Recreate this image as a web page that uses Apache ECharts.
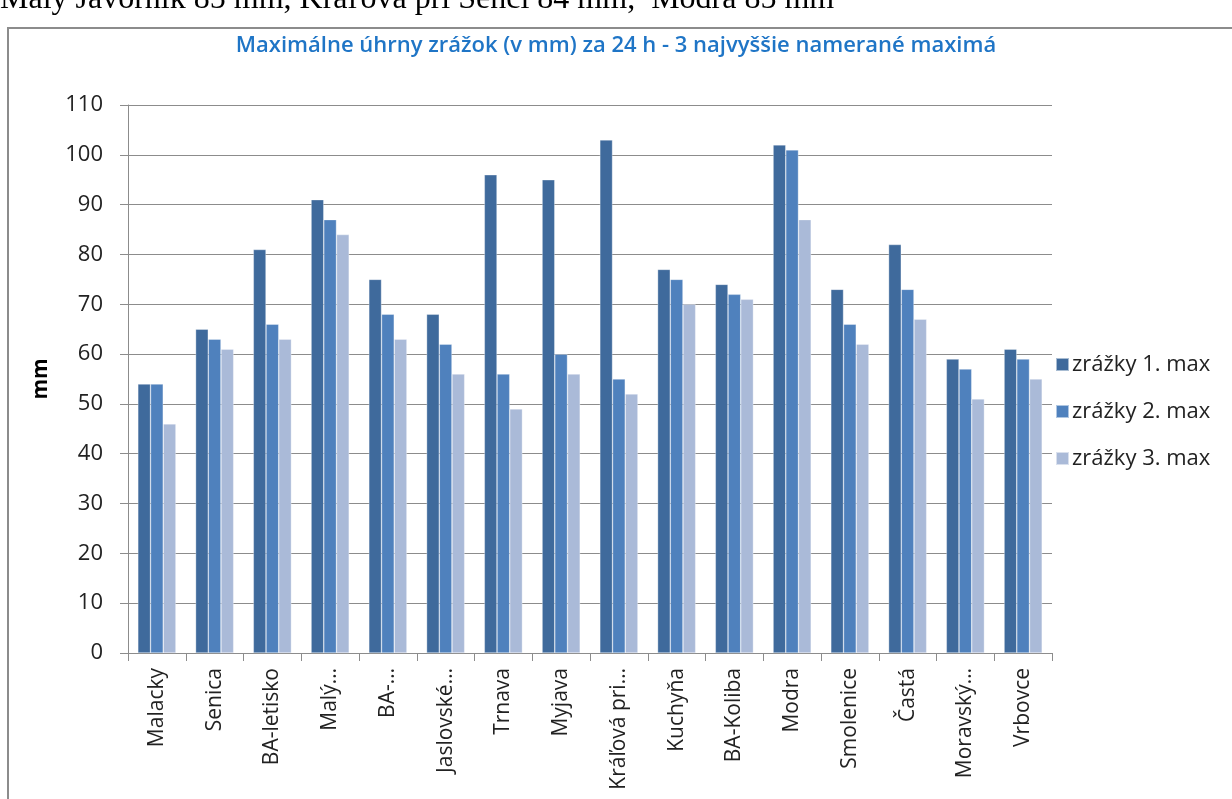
<!DOCTYPE html>
<html>
<head>
<meta charset="utf-8">
<script src="https://cdn.jsdelivr.net/npm/echarts@6/dist/echarts.min.js"></script>
<style>
  html, body { margin: 0; padding: 0; background: #fff; }
  #chart { width: 1232px; height: 799px; }
</style>
</head>
<body>
<div id="chart"></div>
<script>
// Stations (long names are shortened the way the axis shows them)
const stations = ['Malacky', 'Senica', 'BA-letisko', 'Malý…', 'BA-…', 'Jaslovské…', 'Trnava', 'Myjava', 'Kráľová pri…',
  'Kuchyňa', 'BA-Koliba', 'Modra', 'Smolenice', 'Častá', 'Moravský…', 'Vrbovce'];

// Three highest 24-hour precipitation totals per station (mm)
const max1 = [54, 65, 81, 91, 75, 68, 96, 95, 103, 77, 74, 102, 73, 82, 59, 61];
const max2 = [54, 63, 66, 87, 68, 62, 56, 60, 55, 75, 72, 101, 66, 73, 57, 59];
const max3 = [46, 61, 63, 84, 63, 56, 49, 56, 52, 70, 71, 87, 62, 67, 51, 55];

const seriesNames = ['zrážky 1. max', 'zrážky 2. max', 'zrážky 3. max'];
const seriesColors = ['#3F6A9C', '#4F81BD', '#AABAD8'];
const yTicks = { min: 0, max: 110, step: 10 };

const uiFont = '"Open Sans", "Noto Sans", sans-serif';

const chart = echarts.init(document.getElementById('chart'), null, { renderer: 'canvas' });

const values = [max1, max2, max3];

chart.setOption({
  backgroundColor: '#ffffff',
  animation: false,
  title: {
    text: 'Maximálne úhrny zrážok (v mm) za 24 h - 3 najvyššie namerané maximá',
    left: 'center',
    top: 30,
    textStyle: { fontFamily: uiFont, fontSize: 22, fontWeight: 600, color: '#1F75C6' }
  },
  graphic: [
    {
      type: 'rect',
      shape: { x: 8, y: 28, width: 1300, height: 900 },
      style: { fill: 'none', stroke: '#8C8C8C', lineWidth: 2 },
      silent: true, z: -1
    },
    {
      type: 'text',
      left: 0, top: -16,
      style: {
        text: 'Malý Javorník 85 mm, Kráľova pri Senci 84 mm,  Modra 85 mm',
        font: '32px "Liberation Serif", "DejaVu Serif", serif',
        fill: '#000'
      },
      silent: true
    }
  ],
  legend: {
    orient: 'vertical',
    left: 1050,
    top: 347,
    itemWidth: 13,
    itemHeight: 13,
    itemGap: 22,
    icon: 'rect',
    textStyle: { fontFamily: uiFont, fontSize: 22, lineHeight: 25, color: '#222', padding: [0, 0, 0, -2] },
    data: seriesNames
  },
  grid: { left: 128, right: 180, top: 105, bottom: 146, containLabel: false },
  xAxis: {
    type: 'category',
    data: stations,
    axisLine: { lineStyle: { color: '#8C8C8C', width: 1 } },
    axisTick: { show: true, length: 8, interval: 0, lineStyle: { color: '#8C8C8C' } },
    axisLabel: {
      interval: 0, rotate: 90, margin: 15,
      fontFamily: uiFont, fontSize: 21, color: '#222'
    }
  },
  yAxis: {
    type: 'value',
    min: yTicks.min, max: yTicks.max, interval: yTicks.step,
    name: 'mm',
    nameLocation: 'middle',
    nameRotate: 90,
    nameGap: 76,
    nameTextStyle: { fontFamily: uiFont, fontSize: 21, fontWeight: 'bold', color: '#000' },
    axisLine: { show: true, lineStyle: { color: '#8C8C8C' } },
    axisTick: { show: true, length: 8, lineStyle: { color: '#8C8C8C' } },
    axisLabel: { margin: 25, fontFamily: uiFont, fontSize: 22, color: '#222' },
    splitLine: { show: true, lineStyle: { color: '#8C8C8C', width: 1 } }
  },
  series: seriesNames.map((name, i) => ({
    name,
    type: 'bar',
    data: values[i],
    barGap: '0%',
    barCategoryGap: '34%',
    itemStyle: { color: seriesColors[i], borderColor: 'rgba(255,255,255,0.55)', borderWidth: 0.6 }
  }))
});
</script>
</body>
</html>
